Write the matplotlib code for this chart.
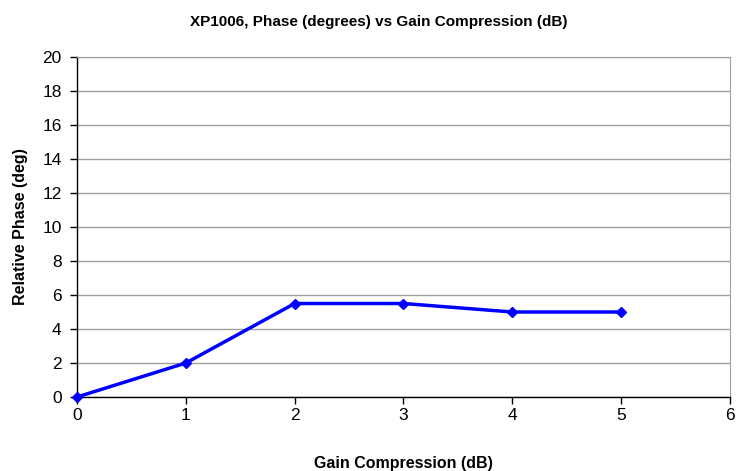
import matplotlib
matplotlib.use("Agg")
import matplotlib.pyplot as plt
from matplotlib.ticker import MultipleLocator

# data
gain_db = [0, 1, 2, 3, 4, 5]
phase_deg = [0, 2, 5.5, 5.5, 5, 5]

plt.rcParams['font.family'] = ['Liberation Sans', 'DejaVu Sans']

fig = plt.figure(figsize=(7.39, 4.71), dpi=100)
ax = fig.add_axes([0.1042, 0.1571, 0.8836, 0.7219])

ax.plot(gain_db, phase_deg, color='#0000FF', lw=2.5, marker='D', ms=5,
        zorder=3, clip_on=False)

ax.set_xlim(0, 6)
ax.set_ylim(0, 20)
ax.xaxis.set_major_locator(MultipleLocator(1))
ax.yaxis.set_major_locator(MultipleLocator(2))
ax.yaxis.grid(True, color='#a0a0a0', lw=1)
ax.set_axisbelow(True)

for side in ('top', 'right'):
    ax.spines[side].set_color('#a0a0a0')
for side in ('left', 'bottom'):
    ax.spines[side].set_color('black')
    ax.spines[side].set_linewidth(1)

ax.tick_params(axis='both', direction='out', length=5, width=1,
               labelsize=12.5, pad=3)
ax.tick_params(axis='y', pad=6)

ax.set_xlabel('Gain Compression (dB)', fontsize=11.5, fontweight='bold', labelpad=24)
ax.set_ylabel('Relative Phase (deg)', fontsize=11.5, fontweight='bold', labelpad=10)
fig.suptitle('XP1006, Phase (degrees) vs Gain Compression (dB)',
             fontsize=11, fontweight='bold', x=0.512, y=0.968)

fig.savefig('out.png', dpi=100)
